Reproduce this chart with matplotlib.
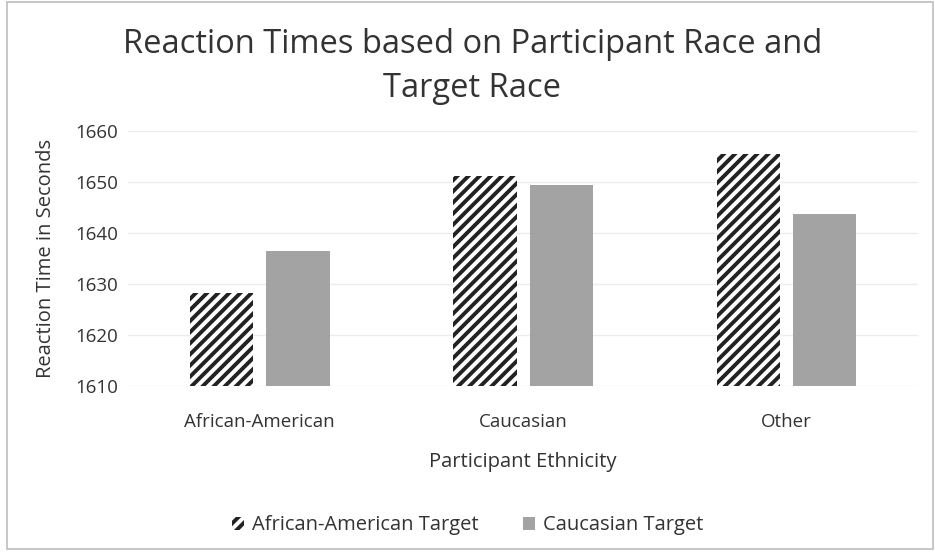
import numpy as np
import matplotlib
matplotlib.use("Agg")
import matplotlib.pyplot as plt
from matplotlib.patches import Rectangle

# --------------------------------------------------------------------
categories = ["African-American", "Caucasian", "Other"]
aa_target = [1628.3, 1651.2, 1655.4]
cauc_target = [1636.4, 1649.3, 1643.8]
series_names = ["African-American Target", "Caucasian Target"]
yticks = [1610, 1620, 1630, 1640, 1650, 1660]
# --------------------------------------------------------------------

plt.rcParams["font.family"] = ["Open Sans", "DejaVu Sans"]
plt.rcParams["hatch.linewidth"] = 2.8
plt.rcParams["hatch.color"] = "#222222"

fig = plt.figure(figsize=(9.35, 5.56), dpi=100)
ax = fig.add_axes([0.137, 0.305, 0.845, 0.46])

x = np.arange(len(categories))
w = 0.24
gap = 0.05
b1 = ax.bar(x - w / 2 - gap / 2, np.array(aa_target) - 1610, w, bottom=1610,
            color="white", edgecolor="#222222", hatch="///", linewidth=0,
            label=series_names[0])
b2 = ax.bar(x + w / 2 + gap / 2, np.array(cauc_target) - 1610, w, bottom=1610,
            color="#a3a3a3", linewidth=0, label=series_names[1])

ax.set_ylim(1610, 1660)
ax.set_xlim(-0.5, 2.5)
ax.set_yticks(yticks)
ax.set_xticks(x)
ax.set_xticklabels(categories)
ax.tick_params(axis="both", length=0, labelsize=13.5, colors="#333333")
ax.tick_params(axis="x", pad=19)
ax.tick_params(axis="y", pad=7)
ax.grid(axis="y", color="#ececec", linewidth=1)
ax.set_axisbelow(True)
for s in ax.spines.values():
    s.set_visible(False)

ax.set_ylabel("Reaction Time in Seconds", fontsize=14.5, color="#333333", labelpad=14)
ax.set_xlabel("Participant Ethnicity", fontsize=14.5, color="#333333", labelpad=15)

fig.text(0.505, 0.88, "Reaction Times based on Participant Race and\nTarget Race",
         ha="center", va="center", fontsize=23.5, color="#333333", linespacing=1.45)

fig.legend(handles=[b1, b2], labels=series_names, loc="center",
           bbox_to_anchor=(0.5, 0.055), ncol=2, frameon=False, fontsize=14.5,
           handlelength=0.6, handleheight=0.6, columnspacing=2.2,
           handletextpad=0.4, labelcolor="#333333")

# outer chart border
fig.add_artist(Rectangle((0.008, 0.012), 0.99, 0.985, transform=fig.transFigure,
                         fill=False, edgecolor="#bdbdbd", linewidth=1.2))

fig.savefig("out.png", dpi=100)
